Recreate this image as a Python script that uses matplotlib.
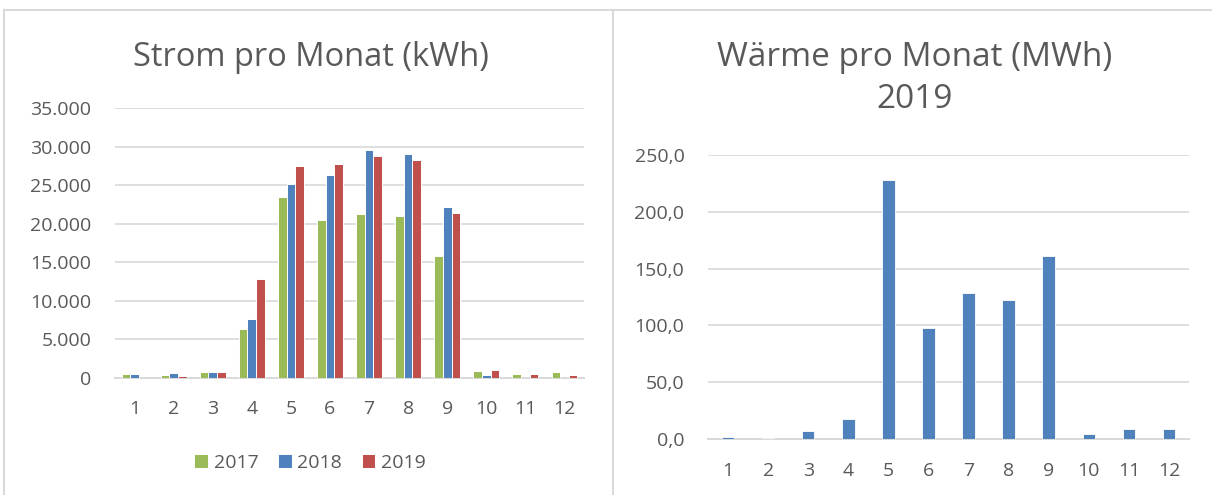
import matplotlib
matplotlib.use("Agg")
import matplotlib.pyplot as plt
from matplotlib.lines import Line2D
from matplotlib.ticker import FuncFormatter
import numpy as np

plt.rcParams['font.family'] = ['Open Sans', 'DejaVu Sans']

months = [str(m) for m in range(1, 13)]
years = ["2017", "2018", "2019"]
strom_2017 = [550, 400, 740, 6330, 23420, 20510, 21250, 21030, 15870, 870, 480, 780]
strom_2018 = [500, 600, 820, 7680, 25150, 26320, 29620, 29060, 22120, 430, 0, 0]
strom_2019 = [0, 200, 740, 12790, 27490, 27750, 28750, 28230, 21340, 1000, 480, 350]
waerme_2019 = [1.8, 1.2, 7.6, 18.1, 227.8, 97.5, 128.8, 122.0, 161.3, 4.4, 8.8, 8.8]

colors = ["#9BBB59", "#4F81BD", "#C0504D"]
grid_c = "#D9D9D9"
text_c = "#595959"

W, H = 1212, 495
fig = plt.figure(figsize=(W / 100, H / 100), dpi=100)

def px_axes(x0, y_top, x1, y_bot):
    return fig.add_axes([x0 / W, 1 - y_bot / H, (x1 - x0) / W, (y_bot - y_top) / H])

def style(ax, ymax, step):
    ax.set_ylim(0, ymax)
    ax.set_xlim(0.5, 12.5)
    ax.set_yticks(np.arange(0, ymax + 1e-9, step))
    ax.set_xticks(range(1, 13))
    ax.set_xticklabels(months)
    for s in ["top", "right", "left"]:
        ax.spines[s].set_visible(False)
    ax.spines["bottom"].set_color(grid_c)
    ax.spines["bottom"].set_linewidth(1.4)
    ax.spines["bottom"].set_zorder(0.5)
    ax.grid(axis="y", color=grid_c, linewidth=1.2)
    ax.set_axisbelow(True)
    ax.tick_params(axis="both", length=0, labelsize=14, colors=text_c)
    ax.tick_params(axis="y", pad=17)
    ax.tick_params(axis="x", pad=16)

# Left chart
ax1 = px_axes(115, 108, 584, 378)
x = np.arange(1, 13)
bw = 0.22
series = [strom_2017, strom_2018, strom_2019]
for i, (vals, c, lab) in enumerate(zip(series, colors, years)):
    ax1.bar(x + (i - 1) * bw, vals, width=bw, color=c, edgecolor="white",
            linewidth=0.7, label=lab, zorder=2)
style(ax1, 35000, 5000)
ax1.yaxis.set_major_formatter(FuncFormatter(lambda v, p: f"{int(v):,}".replace(",", ".")))

# Right chart
ax2 = px_axes(708, 154.7, 1189, 439.3)
ax2.bar(x, waerme_2019, width=0.31, color=colors[1], edgecolor="white", linewidth=0.6,
        zorder=2)
style(ax2, 250, 50)
ax2.yaxis.set_major_formatter(FuncFormatter(lambda v, p: f"{v:.1f}".replace(".", ",")))

# Titles
fig.text(311 / W, 1 - 58 / H, "Strom pro Monat (kWh)", ha="center", va="center",
         fontsize=23.5, color=text_c)
fig.text(915 / W, 1 - 57 / H, "Wärme pro Monat (MWh)", ha="center", va="center",
         fontsize=24, color=text_c)
fig.text(915 / W, 1 - 100 / H, "2019", ha="center", va="center",
         fontsize=24, color=text_c)

# Legend
handles, labels = ax1.get_legend_handles_labels()
fig.legend(handles, labels, loc="center", bbox_to_anchor=(310 / W, 1 - 463 / H),
           ncol=3, frameon=False, fontsize=14, labelcolor=text_c,
           handlelength=0.7, handleheight=0.7, handletextpad=0.3, columnspacing=1.0)

# Panel borders
lc = "#D9D9D9"
fig.add_artist(Line2D([4 / W, 1], [1 - 10 / H, 1 - 10 / H], color=lc, linewidth=1.5,
                      transform=fig.transFigure))
fig.add_artist(Line2D([4 / W, 4 / W], [0, 1 - 10 / H], color=lc, linewidth=1.5,
                      transform=fig.transFigure))
fig.add_artist(Line2D([613 / W, 613 / W], [0, 1 - 10 / H], color=lc, linewidth=1.5,
                      transform=fig.transFigure))

fig.savefig("out.png", dpi=100)
